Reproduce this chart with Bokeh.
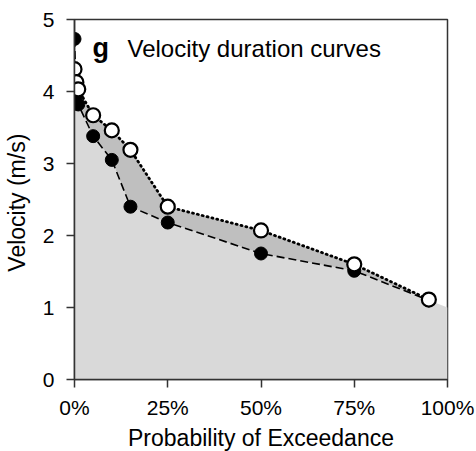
from bokeh.plotting import figure
from bokeh.models import Range1d, FixedTicker, Label
from bokeh.embed import file_html
from bokeh.resources import INLINE

# Probability of exceedance (%) and velocities (m/s)
pct_filled = [0, 0.5, 1, 5, 10, 15, 25, 50, 75, 95]
vel_filled = [4.73, 3.95, 3.82, 3.38, 3.05, 2.40, 2.18, 1.75, 1.51, 1.10]

pct_open = [0, 0.5, 1, 5, 10, 15, 25, 50, 75, 95]
vel_open = [4.31, 4.13, 4.03, 3.67, 3.46, 3.19, 2.40, 2.07, 1.60, 1.11]

# light-gray envelope under the lower curve
shade_pct = [0, 0.5, 1, 5, 10, 15, 25, 50, 75, 95, 100]
shade_vel = [3.95, 3.95, 3.82, 3.38, 3.05, 2.40, 2.18, 1.75, 1.51, 1.10, 1.00]

x_ticks = [0, 25, 50, 75, 100]
x_tick_labels = ["0%", "25%", "50%", "75%", "100%"]
y_ticks = [0, 1, 2, 3, 4, 5]

FONT = "Liberation Sans"

p = figure(frame_width=373, frame_height=360, output_backend="svg",
           toolbar_location=None, x_range=Range1d(0, 100), y_range=Range1d(0, 5),
           min_border_left=70, min_border_top=19, min_border_bottom=70,
           min_border_right=28)
p.background_fill_color = "white"
p.border_fill_color = "white"
p.outline_line_color = "#333333"
p.outline_line_width = 1.5
p.xgrid.visible = False
p.ygrid.visible = False

# light gray area
p.patch(shade_pct + [shade_pct[-1], shade_pct[0]], shade_vel + [0, 0],
        fill_color="#d9d9d9", line_color=None)
# darker band between the curves
band_x = pct_open[2:] + pct_filled[2:][::-1]
band_y = vel_open[2:] + vel_filled[2:][::-1]
p.patch(band_x, band_y, fill_color="#bfbfbf", line_color=None)

p.line(pct_filled, vel_filled, line_color="black", line_width=1.6, line_dash="8 4")
p.line(pct_open, vel_open, line_color="black", line_width=2.8, line_dash="1 4",
       line_cap="round")

p.scatter(pct_filled, vel_filled, size=13, marker="circle", fill_color="black",
          line_color="black")
p.scatter(pct_open, vel_open, size=14, marker="circle", fill_color="white",
          line_color="black", line_width=2.2)

p.add_layout(Label(x=4.8, y=4.60, text="g", text_font=FONT, text_font_size="27px",
                   text_font_style="bold", text_baseline="alphabetic",
                   text_color="black"))
p.add_layout(Label(x=14.2, y=4.60, text="Velocity duration curves", text_font=FONT,
                   text_font_size="24px", text_baseline="alphabetic",
                   text_color="black"))

p.xaxis.ticker = FixedTicker(ticks=x_ticks)
p.xaxis.major_label_overrides = {t: l for t, l in zip(x_ticks, x_tick_labels)}
p.yaxis.ticker = FixedTicker(ticks=y_ticks)
p.xaxis.axis_label = "Probability of Exceedance"
p.yaxis.axis_label = "Velocity  (m/s)"

for ax in (p.xaxis[0], p.yaxis[0]):
    ax.axis_line_color = "#333333"
    ax.axis_line_width = 1.5
    ax.major_tick_line_color = "#333333"
    ax.major_tick_line_width = 1.5
    ax.major_tick_out = 8
    ax.major_tick_in = 0
    ax.minor_tick_line_color = None
    ax.major_label_text_font = FONT
    ax.major_label_text_font_size = "21px"
    ax.major_label_text_color = "black"
    ax.axis_label_text_font = FONT
    ax.axis_label_text_font_size = "23px"
    ax.axis_label_text_font_style = "normal"
    ax.axis_label_text_color = "black"

p.xaxis.major_label_standoff = 8
p.xaxis.axis_label_standoff = 3
p.yaxis.major_label_standoff = 12
p.yaxis.axis_label_standoff = 10

open("out.html", "w").write(file_html(p, INLINE))
